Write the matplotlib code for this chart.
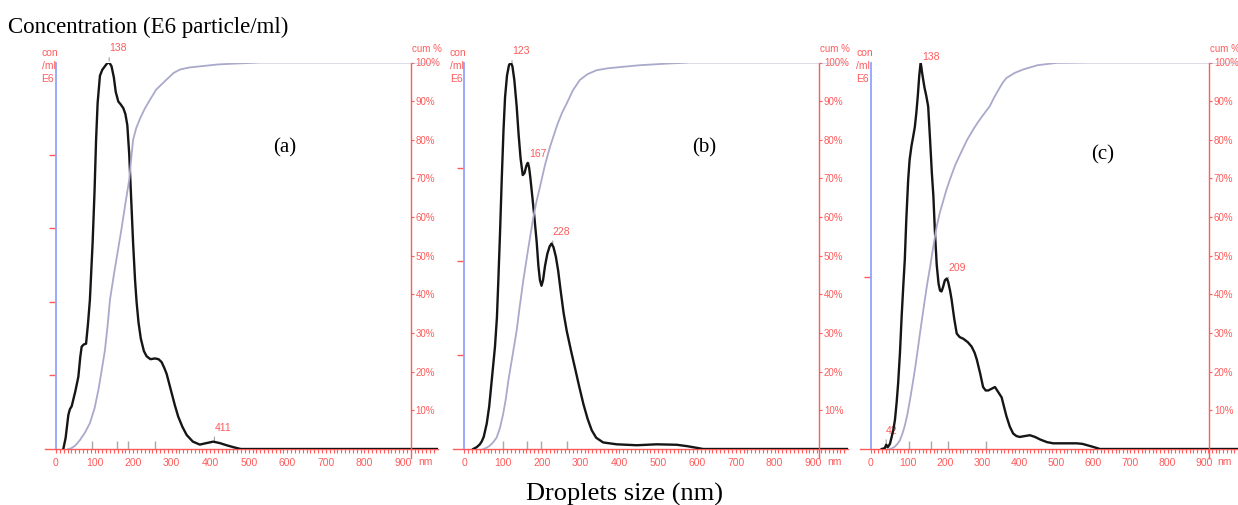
import numpy as np
import matplotlib.pyplot as plt

plt.rcParams['font.family'] = ['Liberation Sans Narrow', 'Liberation Sans', 'DejaVu Sans']

# ---- data (size in nm, concentration in E6 particles/ml, cumulative in %) ----
a_size = [19, 25, 32, 36, 40.7, 50, 58, 63, 66.6, 72, 78, 83, 88, 95, 100, 104, 108, 114, 120, 127, 133, 138,
          144, 150, 155, 161.6, 168, 174.6, 180, 185, 190, 195, 200, 205, 209, 214, 220, 228, 235, 245, 257,
          266, 274, 281, 287, 294, 300, 308, 317, 328, 339, 355, 373, 390, 408, 425, 443, 460, 475, 480, 990]
a_conc = [0, 0.15, 0.46, 0.54, 0.58, 0.78, 0.98, 1.25, 1.39, 1.42, 1.43, 1.7, 2.03, 2.8, 3.5, 4.2, 4.7, 5.07,
          5.15, 5.2, 5.24, 5.25, 5.2, 5.05, 4.85, 4.72, 4.68, 4.63, 4.55, 4.4, 4.0, 3.4, 2.8, 2.3, 2.0, 1.72, 1.5,
          1.33, 1.26, 1.22, 1.23, 1.22, 1.18, 1.1, 1.02, 0.88, 0.76, 0.6, 0.44, 0.3, 0.19, 0.1, 0.06, 0.08, 0.1,
          0.08, 0.05, 0.025, 0.005, 0, 0]
a_cum_size = [32, 40, 50, 62, 75, 88, 100, 110, 118, 127, 134, 140, 150, 160, 170, 180, 190, 196, 200, 208,
              218, 230, 244, 260, 287, 305, 322, 345, 373, 420, 460, 530, 990]
a_cum = [0, 0.2, 0.9, 2.3, 4.2, 6.7, 10.5, 15.3, 20, 25.6, 32, 38.6, 45, 51, 57, 63.5, 69.7, 76, 80, 83, 85.5,
         88, 90.4, 93, 95.6, 97.3, 98.2, 98.7, 99, 99.5, 99.7, 100, 100]
a_peaks = [138, 411]
a_marks = [93, 157, 187, 257]

b_size = [23, 32, 40, 44.8, 50, 57.7, 64, 70.6, 79, 84, 87.7, 92, 96.4, 101, 105, 110, 115, 119.6, 124, 129,
          135, 140, 145, 150.6, 155, 160, 163.5, 167, 170, 173.8, 180, 186.7, 191, 195, 199, 203, 208, 214, 220,
          225, 230, 236, 242, 248, 256, 264, 275, 285, 296, 307, 318, 328.5, 340, 358, 393, 445, 496, 548, 575,
          600, 616, 990]
b_conc = [0, 0.02, 0.05, 0.08, 0.13, 0.27, 0.45, 0.73, 1.09, 1.4, 1.8, 2.3, 2.87, 3.4, 3.75, 3.98, 4.09, 4.12,
          4.08, 3.93, 3.65, 3.35, 3.1, 2.92, 2.94, 3.02, 3.05, 3.0, 2.9, 2.75, 2.5, 2.2, 1.95, 1.8, 1.74, 1.8,
          1.95, 2.08, 2.16, 2.19, 2.15, 2.05, 1.9, 1.7, 1.45, 1.26, 1.05, 0.87, 0.67, 0.48, 0.32, 0.2, 0.12, 0.07,
          0.05, 0.04, 0.05, 0.045, 0.03, 0.012, 0, 0]
b_cum_size = [49, 57, 65, 75, 83.5, 92, 100, 107, 113.5, 124, 135, 143, 152, 165, 178, 186, 195, 208, 221, 240,
              252, 264, 280, 298, 318, 341, 370, 400, 453, 520, 582, 990]
b_cum = [0, 0.3, 0.8, 1.8, 3, 5.5, 9, 13, 17.7, 24, 30.7, 37, 43.6, 52, 60, 64, 67.8, 73.5, 78.2, 84, 87, 89.4,
         92.8, 95.5, 97, 98, 98.5, 98.8, 99.3, 99.7, 100, 100]
b_peaks = [123, 167, 228]
b_marks = [99, 162, 198, 264]

c_size = [30, 38, 42, 46, 52, 56.6, 61, 65.5, 70, 74, 79, 83.5, 88, 92, 96, 101, 105, 110, 115, 119, 123, 127,
          131, 134.7, 139, 145, 150, 155, 160, 165, 169, 173, 178, 183, 187, 191, 195, 200, 205, 209, 214, 218,
          225, 232, 240, 250, 262, 272, 280, 286, 295, 303, 310, 317, 326, 335, 344, 353, 360, 366, 375, 384,
          393, 402, 415, 429, 443, 456, 475, 492, 555, 570, 582, 600, 618, 990]
c_conc = [0, 0.005, 0.025, 0.01, 0.03, 0.07, 0.11, 0.17, 0.27, 0.38, 0.56, 0.77, 0.95, 1.1, 1.33, 1.56, 1.68,
          1.76, 1.82, 1.87, 1.95, 2.05, 2.17, 2.245, 2.18, 2.1, 2.05, 1.99, 1.8, 1.6, 1.47, 1.27, 1.07, 0.96, 0.92,
          0.915, 0.94, 0.98, 0.99, 0.97, 0.92, 0.87, 0.76, 0.67, 0.65, 0.64, 0.62, 0.595, 0.56, 0.52, 0.44, 0.36,
          0.34, 0.34, 0.35, 0.36, 0.33, 0.30, 0.24, 0.19, 0.13, 0.09, 0.075, 0.07, 0.075, 0.08, 0.07, 0.056, 0.04,
          0.033, 0.033, 0.03, 0.023, 0.012, 0, 0]
c_cum_size = [52, 58, 65, 72, 79, 85, 92, 99, 106, 113, 120, 127, 133, 139, 145, 152, 160, 169, 178, 186, 195,
              204, 213.5, 228, 245, 260, 276, 288, 300, 310, 321, 333, 345, 356, 366, 388, 411, 450, 501, 591, 990]
c_cum = [0, 0.2, 0.6, 1.3, 2.3, 3.8, 6, 9, 12.7, 16.8, 21, 25.8, 30, 34, 38, 42.5, 47, 52.5, 57.6, 61, 64, 67,
         69.7, 73.5, 77, 80, 82.6, 84.4, 86, 87.3, 88.7, 91, 93, 94.8, 96, 97.3, 98.2, 99.3, 99.9, 100, 100]
c_peaks = [138, 209, 42]
c_marks = [103, 162, 208, 312]

labels = ['(a)', '(b)', '(c)']
x_ticks = list(range(0, 901, 100))
pct_ticks = list(range(10, 101, 10))

# ---- layout (pixels) ----
W, H = 1238, 505
red = '#ff5b5b'
blue = '#93a3ff'
panels = [
    dict(size=a_size, conc=a_conc, cs=a_cum_size, cum=a_cum, peaks=a_peaks, marks=a_marks,
         left=44.8, right=437.7, top=5.25, yt=[1, 2, 3, 4], xr=920, lab=(285, 148)),
    dict(size=b_size, conc=b_conc, cs=b_cum_size, cum=b_cum, peaks=b_peaks, marks=b_marks,
         left=453.1, right=848.2, top=4.12, yt=[1, 2, 3], xr=915, lab=(704, 148)),
    dict(size=c_size, conc=c_conc, cs=c_cum_size, cum=c_cum, peaks=c_peaks, marks=c_marks,
         left=859.9, right=1238, top=2.245, yt=[1], xr=912, lab=(1103, 155)),
]
base_px, top_px = 449, 62.5

fig = plt.figure(figsize=(W / 100, H / 100), dpi=100)

for p, lab in zip(panels, labels):
    ax = fig.add_axes([p['left'] / W, (H - base_px) / H, (p['right'] - p['left']) / W, (base_px - top_px) / H])
    ax.set_xlim(-29, 990)
    ax.set_ylim(0, p['top'])
    ax.plot(p['size'], p['conc'], color='#151515', lw=1.7, zorder=4, solid_joinstyle='round')
    ax.vlines(p['marks'], 0, p['top'] * 8 / (base_px - top_px), color='#a8a8a8', lw=1, zorder=2)

    for s in ['top', 'right']:
        ax.spines[s].set_visible(False)
    ax.spines['left'].set_position(('data', 0))
    ax.spines['left'].set_color(blue)
    ax.spines['left'].set_linewidth(1.3)
    ax.spines['bottom'].set_color(red)
    ax.spines['bottom'].set_linewidth(1.0)
    ax.set_yticks(p['yt'])
    ax.tick_params(axis='y', colors=red, length=5, width=1, labelleft=False)
    ax.set_xticks(x_ticks)
    ax.set_xticklabels([str(v) for v in x_ticks])
    ax.set_xticks(np.arange(0, 990, 10), minor=True)
    ax.tick_params(axis='x', which='both', colors=red, direction='out', length=3, width=0.8,
                   labelsize=7.5, pad=3.5)

    for pk in p['peaks']:
        yv = np.interp(pk, p['size'], p['conc'])
        ax.annotate(str(pk), xy=(pk, yv), xytext=(0, 6.5), textcoords='offset points',
                    ha='left', va='bottom', color=red, fontsize=7.5, annotation_clip=False,
                    arrowprops=dict(arrowstyle='-', color='#a0a0a0', lw=0.8, relpos=(0, 0),
                                    shrinkA=1, shrinkB=1))

    for i, t in enumerate(['con', '/ml', 'E6']):
        ax.annotate(t, xy=(0, p['top']), xytext=(-10.4, 6.8 - i * 9.4), textcoords='offset points',
                    ha='left', va='center', color=red, fontsize=7.5, annotation_clip=False)

    tw = ax.twinx()
    tw.set_ylim(0, 100)
    tw.plot(p['cs'], p['cum'], color='#a9a9cb', lw=1.3, zorder=3, solid_joinstyle='round')
    for s in ['top', 'left', 'bottom']:
        tw.spines[s].set_visible(False)
    tw.spines['right'].set_position(('data', p['xr']))
    tw.spines['right'].set_color(red)
    tw.spines['right'].set_linewidth(1.0)
    tw.spines['right'].set_bounds(-2.3, 100)
    tw.set_yticks(pct_ticks)
    tw.set_yticklabels([f'{v}%' for v in pct_ticks])
    tw.tick_params(axis='y', colors=red, length=2.5, width=0.8, pad=1, labelsize=7)
    tw.annotate('cum %', xy=(p['xr'], 100), xytext=(0.8, 9.7), textcoords='offset points',
                ha='left', va='center', color=red, fontsize=7, annotation_clip=False)
    tw.annotate('nm', xy=(p['xr'], 0), xytext=(10.8, -9.4), textcoords='offset points',
                ha='center', va='center', color=red, fontsize=7.5, annotation_clip=False)

    fig.text(p['lab'][0] / W, 1 - p['lab'][1] / H, lab, ha='center', va='center',
             family='Liberation Serif', fontsize=15)

fig.text(8 / W, 1 - 33 / H, 'Concentration (E6 particle/ml)', ha='left', va='baseline',
         family='Liberation Serif', fontsize=16.5)
fig.text(624 / W, 4 / H, 'Droplets size (nm)', ha='center', va='baseline',
         family='Liberation Serif', fontsize=19)

fig.savefig('out.png', dpi=100)
